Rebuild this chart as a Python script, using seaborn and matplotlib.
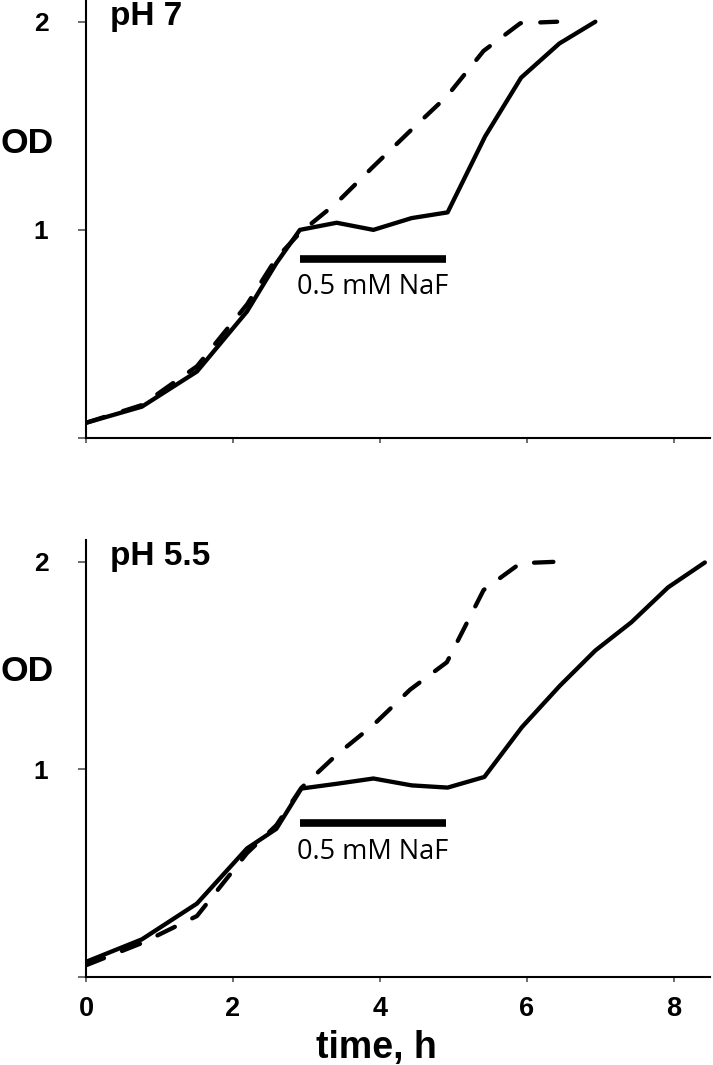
import matplotlib
matplotlib.use("Agg")
import matplotlib.pyplot as plt
from matplotlib.ticker import NullLocator
import pandas as pd
import seaborn as sns

# ---------------------------------------------------------------------------
# Data (time in h, OD on a log2 axis)
# ---------------------------------------------------------------------------
PANELS = ["pH 7", "pH 5.5"]

# pH 7 — with NaF (solid) and control (dashed)
TIME_PH7_NAF = [0, 0.76, 1.51, 2.19, 2.59, 2.91, 3.41, 3.91, 4.43, 4.92, 5.43, 5.92, 6.44, 6.93]
OD_PH7_NAF   = [0.526, 0.555, 0.624, 0.762, 0.895, 1.0, 1.024, 1.0, 1.04, 1.06, 1.365, 1.66, 1.86, 2.0]
TIME_PH7_CTRL = [0, 0.76, 1.51, 2.19, 2.59, 2.91, 3.41, 3.91, 4.41, 4.91, 5.41, 5.91, 6.41]
OD_PH7_CTRL   = [0.526, 0.558, 0.635, 0.78, 0.91, 0.99, 1.094, 1.235, 1.39, 1.56, 1.815, 1.99, 2.0]

# pH 5.5
TIME_PH55_NAF = [0, 0.76, 1.51, 2.19, 2.59, 2.93, 3.41, 3.91, 4.43, 4.92, 5.42, 5.93,
                 6.45, 6.93, 7.42, 7.92, 8.42]
OD_PH55_NAF   = [0.526, 0.567, 0.639, 0.768, 0.82, 0.938, 0.953, 0.97, 0.948, 0.941, 0.975, 1.151,
                 1.323, 1.487, 1.634, 1.836, 1.995]
TIME_PH55_CTRL = [0, 0.76, 1.51, 2.19, 2.59, 2.93, 3.41, 3.91, 4.41, 4.91, 5.41, 5.91, 6.41]
OD_PH55_CTRL   = [0.52, 0.56, 0.613, 0.756, 0.83, 0.94, 1.05, 1.16, 1.305, 1.43, 1.82, 1.99, 2.0]

# NaF exposure bar: start, end (h), OD level of bar and of its label
NAF_LABEL = "0.5 mM NaF"
NAF_START, NAF_END = 2.91, 4.90
NAF_BAR_Y  = [0.908, 0.835]
NAF_TEXT_Y = [0.827, 0.758]

X_TICKS = [0, 2, 4, 6, 8]
Y_TICKS = [0.5, 1, 2]
Y_TICK_LABELS = ["", "1", "2"]

# ---------------------------------------------------------------------------
# Long-form table for seaborn
# ---------------------------------------------------------------------------
def series(panel, cond, t, od):
    return pd.DataFrame({"panel": panel, "cond": cond, "time": t, "od": od})

df = pd.concat([
    series("pH 7", "NaF", TIME_PH7_NAF, OD_PH7_NAF),
    series("pH 7", "control", TIME_PH7_CTRL, OD_PH7_CTRL),
    series("pH 5.5", "NaF", TIME_PH55_NAF, OD_PH55_NAF),
    series("pH 5.5", "control", TIME_PH55_CTRL, OD_PH55_CTRL),
], ignore_index=True)

# ---------------------------------------------------------------------------
# Figure
# ---------------------------------------------------------------------------
sns.set_style("ticks")
plt.rcParams["font.family"] = ["Liberation Sans", "DejaVu Sans"]
plt.rcParams.update({"text.color": "black", "axes.labelcolor": "black",
                     "xtick.color": "black", "ytick.color": "black"})

fig = plt.figure(figsize=(7.13, 10.65), dpi=100)
ax_top = fig.add_axes([0.1206, 0.5887, 0.8752, 0.4113])
ax_bot = fig.add_axes([0.1206, 0.0826, 0.8752, 0.4103])
axes = [ax_top, ax_bot]
od_label_y = [0.672, 0.699]

for i, (ax, panel) in enumerate(zip(axes, PANELS)):
    sub = df[df["panel"] == panel]
    sns.lineplot(data=sub, x="time", y="od", style="cond", ax=ax,
                 style_order=["NaF", "control"],
                 dashes={"NaF": "", "control": (4.5, 4.5)},
                 color="black", linewidth=3.1, estimator=None, sort=False,
                 legend=False, dash_capstyle="round", solid_capstyle="round",
                 solid_joinstyle="round")

    # NaF exposure bar + label
    ax.plot([NAF_START, NAF_END], [NAF_BAR_Y[i], NAF_BAR_Y[i]],
            color="black", linewidth=5.5, solid_capstyle="butt")
    ax.text(NAF_START - 0.04, NAF_TEXT_Y[i], NAF_LABEL, ha="left", va="center",
            fontsize=19.5, family=["Open Sans", "DejaVu Sans"])

    ax.set_yscale("log", base=2)
    ax.set_ylim(0.5, 2.15)
    ax.set_xlim(0, 8.49)
    ax.set_yticks(Y_TICKS)
    ax.set_yticklabels(Y_TICK_LABELS, fontsize=19, fontweight="bold")
    ax.yaxis.set_minor_locator(NullLocator())
    ax.set_xticks(X_TICKS)

    ax.tick_params(axis="y", direction="out", length=6, width=1.1, pad=21,
                   color="#444444", labelcolor="black")
    ax.tick_params(axis="x", direction="out", length=3.6, width=1.1, pad=10,
                   color="#444444", labelcolor="black")
    for s in ["left", "bottom"]:
        ax.spines[s].set_linewidth(1.5)
        ax.spines[s].set_color("black")
    sns.despine(ax=ax)

    ax.set_ylabel("OD", rotation=0, fontsize=25.5, fontweight="bold",
                  ha="right", va="center")
    ax.yaxis.set_label_coords(-0.051, od_label_y[i])

    ax.text(0.0385, 0.943, panel, transform=ax.transAxes, ha="left",
            va="baseline", fontsize=24, fontweight="bold")

ax_top.set_xticklabels([])
ax_top.set_xlabel("")
ax_bot.set_xticklabels([str(t) for t in X_TICKS], fontsize=19.5, fontweight="bold")
ax_bot.set_xlabel("time, h", fontsize=27, fontweight="bold", va="baseline")
ax_bot.xaxis.set_label_coords(0.465, -0.185)

fig.savefig("out.png", dpi=100)
plt.close(fig)
